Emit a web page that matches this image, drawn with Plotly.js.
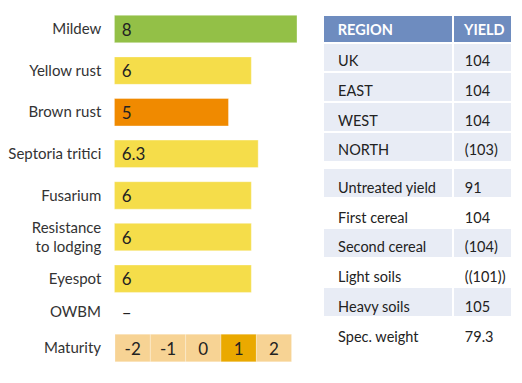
<!DOCTYPE html>
<html>
<head>
<meta charset="utf-8">
<script src="https://cdn.plot.ly/plotly-3.0.1.min.js"></script>
<style>html,body{margin:0;padding:0;background:#fff;}#chart{width:522px;height:383px;}</style>
</head>
<body>
<div id="chart"></div>
<script>
// ---- data ----
const traits = ['Mildew', 'Yellow rust', 'Brown rust', 'Septoria tritici', 'Fusarium', 'Resistance<br>to lodging', 'Eyespot'];
const ratings = [8, 6, 5, 6.3, 6, 6, 6];
const owbmLabel = 'OWBM';
const owbmText = '–';
const maturityLabel = 'Maturity';
const maturityScale = [-2, -1, 0, 1, 2];
const maturityValue = 1;

const regionHeader = ['REGION', 'YIELD'];
const regions = ['UK', 'EAST', 'WEST', 'NORTH'];
const regionYields = ['104', '104', '104', '(103)'];
const otherLabels = ['Untreated yield', 'First cereal', 'Second cereal', 'Light soils', 'Heavy soils', 'Spec. weight'];
const otherValues = ['91', '104', '(104)', '((101))', '105', '79.3'];

// ---- styles ----
const W = 522, H = 383;
const fx = p => p / W;
const fy = p => 1 - p / H;
const barColors = ['#93C047', '#F5DD4A', '#F08A00', '#F5DD4A', '#F5DD4A', '#F5DD4A', '#F5DD4A'];
const matLight = '#F7D394', matHi = '#EAA900';
const headFill = '#6E8CBF', rowFill = '#E8ECF5';
const font = 'Lato, "Open Sans", sans-serif';
const padL = s => '\u00a0\u00a0' + s;
const padR = s => '\u00a0' + s;
const blank = arr => arr.map(() => '');
const clear = 'rgba(0,0,0,0)';
const tx = [fx(322.7), fx(512)];
const colW = [130.6, 58.7];
const ROW = 29.75;

const bodyFont = {family: font, size: 14.5, color: '#222'};
const headFont = {family: font, size: 14.5, color: '#fff', weight: 700};

const traces = [
  {
    type: 'bar', orientation: 'h', xaxis: 'x', yaxis: 'y',
    y: traits, x: ratings,
    marker: {color: barColors, line: {color: 'rgba(255,255,255,0.35)', width: 1}},
    texttemplate: '\u00a0%{x}', textposition: 'inside', insidetextanchor: 'start',
    insidetextfont: {family: font, size: 17, color: '#222'},
    constraintext: 'none',
    hoverinfo: 'skip'
  },
  {
    type: 'bar', orientation: 'h', xaxis: 'x', yaxis: 'y2',
    y: [owbmLabel], x: [0], text: [owbmText], texttemplate: '\u00a0%{text}', textposition: 'outside',
    outsidetextfont: {family: font, size: 17, color: '#222'},
    marker: {color: clear}, cliponaxis: false, hoverinfo: 'skip'
  },
  {
    type: 'bar', orientation: 'h', xaxis: 'x2', yaxis: 'y2',
    y: maturityScale.map(() => maturityLabel),
    x: maturityScale.map(() => 1),
    base: maturityScale.map(v => v - 0.5),
    width: 0.77,
    text: maturityScale.map(String), textposition: 'inside', insidetextanchor: 'middle',
    insidetextfont: {family: font, size: 17, color: '#222'},
    constraintext: 'none',
    marker: {color: maturityScale.map(v => v === maturityValue ? matHi : matLight),
             line: {color: 'rgba(255,255,255,0.25)', width: 1}},
    hoverinfo: 'skip'
  },
  // table 1: fills
  {
    type: 'table', domain: {x: tx, y: [fy(166), fy(15)]}, columnwidth: colW,
    header: {values: blank(regionHeader), fill: {color: headFill}, height: 27.7, line: {color: '#fff', width: 2}},
    cells: {values: [blank(regions), blank(regionYields)], fill: {color: rowFill}, height: ROW, line: {color: '#fff', width: 2}}
  },
  // table 1: text
  {
    type: 'table', domain: {x: tx, y: [fy(170), fy(16.5)]}, columnwidth: colW,
    header: {
      values: [padL(regionHeader[0]), padR(regionHeader[1])],
      fill: {color: clear}, align: 'left', height: 27.7 + 3, line: {color: clear, width: 0},
      font: headFont
    },
    cells: {
      values: [regions.map(padL), regionYields.map(padR)],
      fill: {color: clear}, align: 'left', height: ROW, line: {color: clear, width: 0},
      font: bodyFont
    }
  },
  // table 2: fills
  {
    type: 'table', domain: {x: tx, y: [fy(360), fy(168.3)]}, columnwidth: colW,
    header: {values: ['', ''], fill: {color: rowFill}, height: ROW, line: {color: '#fff', width: 2}},
    cells: {
      values: [blank(otherLabels.slice(1)), blank(otherValues.slice(1))],
      fill: {color: [otherLabels.slice(1).map((_, i) => i % 2 === 0 ? '#fff' : rowFill)]},
      height: ROW, line: {color: '#fff', width: 2}
    }
  },
  // table 2: text
  {
    type: 'table', domain: {x: tx, y: [fy(368), fy(174)]}, columnwidth: colW,
    header: {
      values: [padL(otherLabels[0]), padR(otherValues[0])],
      fill: {color: clear}, align: 'left', height: ROW, line: {color: clear, width: 0},
      font: bodyFont
    },
    cells: {
      values: [otherLabels.slice(1).map(padL), otherValues.slice(1).map(padR)],
      fill: {color: clear}, align: 'left', height: ROW, line: {color: clear, width: 0},
      font: bodyFont
    }
  }
];

const layout = {
  width: W, height: H,
  margin: {l: 0, r: 0, t: 0, b: 0},
  paper_bgcolor: '#fff', plot_bgcolor: clear,
  showlegend: false,
  bargap: 0.34,
  barmode: 'overlay',
  font: {family: font, size: 15, color: '#333'},
  xaxis: {domain: [fx(114.3), fx(297)], range: [0, 8], visible: false, fixedrange: true},
  xaxis2: {domain: [fx(115), fx(291.7)], range: [-2.5, 2.5], visible: false, anchor: 'y2', fixedrange: true},
  yaxis: {
    domain: [fy(299.5), fy(8.2)], type: 'category', categoryorder: 'array', categoryarray: traits,
    range: [traits.length - 0.5, -0.5], anchor: 'x',
    showgrid: false, zeroline: false, showline: false,
    ticks: 'outside', ticklen: 9, tickcolor: clear,
    tickfont: {family: font, size: 15, color: '#333'}, automargin: false, fixedrange: true
  },
  yaxis2: {
    domain: [fy(366), fy(294)], type: 'category', categoryorder: 'array', categoryarray: [owbmLabel, maturityLabel],
    range: [1.5, -0.5], anchor: 'x2',
    showgrid: false, zeroline: false, showline: false,
    ticks: 'outside', ticklen: 10, tickcolor: clear,
    tickfont: {family: font, size: 15, color: '#333'}, automargin: false, fixedrange: true
  }
};

Plotly.newPlot('chart', traces, layout, {displayModeBar: false, staticPlot: true});
</script>
</body>
</html>
